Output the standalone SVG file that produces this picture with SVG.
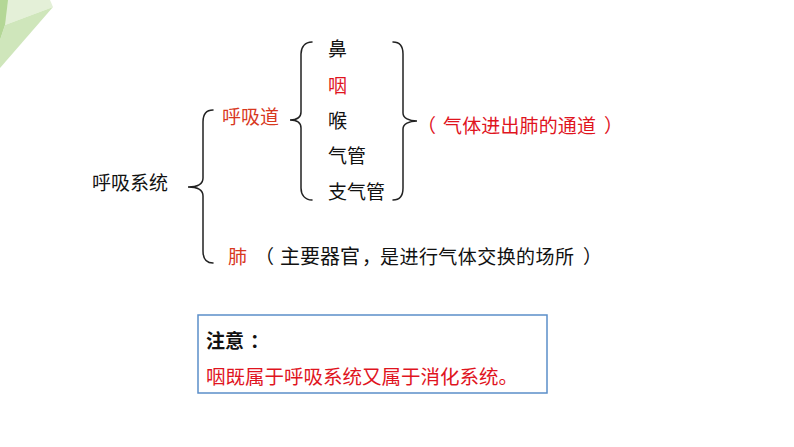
<svg xmlns="http://www.w3.org/2000/svg" width="794" height="447" viewBox="0 0 794 447">
<style>
text{font-family:"Microsoft YaHei","Noto Sans CJK SC","Noto Sans",sans-serif;font-size:19px;fill:#111}
.red{fill:#e0141e}
.org{fill:#d8381e}
.brace{fill:none;stroke:#222;stroke-width:1.5;stroke-linecap:round}
</style>
<rect width="794" height="447" fill="#fff"/>
<g id="corner">
<polygon points="0,0 50,0 53,7 5,25 0,22" fill="#e4f0d8"/>
<polygon points="5,25 53,7 0,68 0,40" fill="#cfe6bb"/>
<polygon points="0,0 8,0 5,25 0,40" fill="#b4d796"/>
</g>
<g id="connectors">
<path class="brace" d="M213,110 C206,110 203,115 203,122 L203,178 C203,184 197,187 188,187 C197,187 203,190 203,196 L203,251 C203,258 206,263 213,263"/>
<path class="brace" d="M312,42 C305,42 301,47 301,54 L301,112 C301,117 297,120 290,120 C297,120 301,123 301,128 L301,188 C301,195 305,200 312,200"/>
<path class="brace" d="M393,42 C400,42 403,47 403,54 L403,113 C403,118 409,121 417,121 C409,121 403,124 403,129 L403,188 C403,195 400,200 393,200"/>
</g>
<g id="root"><text x="92" y="190">呼吸系统</text></g>
<g id="airway"><text class="org" x="222" y="124">呼吸道</text></g>
<g id="items">
<text x="328" y="56">鼻</text>
<text class="red" x="328" y="93">咽</text>
<text x="328" y="128">喉</text>
<text x="328" y="163">气管</text>
<text x="328" y="199">支气管</text>
</g>
<g id="airway-note">
<text class="red" x="417" y="133">（</text>
<text class="red" x="443" y="133" textLength="153" lengthAdjust="spacing">气体进出肺的通道</text>
<text class="red" x="604" y="133">）</text>
</g>
<g id="lung">
<text class="org" x="228" y="264">肺</text>
<text x="255" y="264">（</text>
<text x="280" y="264" style="font-size:20px">主要器官</text>
<text x="362" y="264">，</text>
<text x="380" y="264" textLength="194" lengthAdjust="spacing">是进行气体交换的场所</text>
<text x="583" y="264">）</text>
</g>
<g id="note">
<rect x="198" y="315" width="349" height="78" fill="#fff" stroke="#5b8ec9" stroke-width="1.5"/>
<text x="206" y="348" style="font-weight:bold">注意</text>
<text x="250" y="348" style="font-weight:bold">：</text>
<text class="red" x="206" y="384" style="font-size:19.5px">咽既属于呼吸系统又属于消化系统。</text>
</g>
</svg>
